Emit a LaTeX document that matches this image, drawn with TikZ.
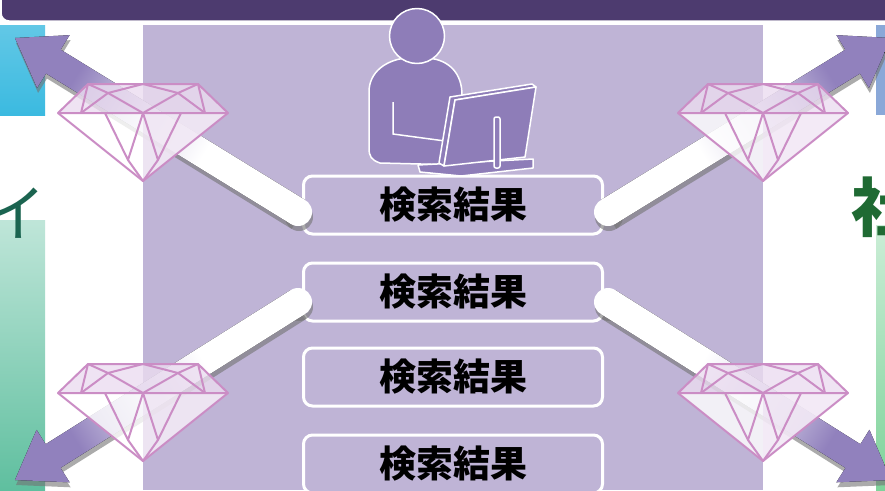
\documentclass[tikz,border=0pt]{standalone}
\usepackage{fontspec}
\newfontfamily\jpfont{Noto Sans CJK JP}
\usetikzlibrary{calc,positioning}

\definecolor{barpurple}{HTML}{4D3B6F}
\definecolor{panelpurple}{HTML}{BFB4D6}
\definecolor{iconpurple}{HTML}{8E7DB8}
\definecolor{arrowpurple}{HTML}{9181BD}
\definecolor{gemline}{HTML}{CB8DC5}
\definecolor{gemtint}{HTML}{EBDDF0}
\definecolor{skyblue}{HTML}{3BBAE0}
\definecolor{mintgreen}{HTML}{5FBF9F}
\definecolor{softblue}{HTML}{8AA8D8}
\definecolor{leafgreen}{HTML}{7ED39A}
\definecolor{darkteal}{HTML}{1B6450}
\definecolor{darkleaf}{HTML}{1F6A33}

% fade along the arrow shaft: white at the box, purple at the tip
\pgfdeclarehorizontalshading{shaftfade}{100bp}{color(0bp)=(white); color(40bp)=(white); color(55bp)=(arrowpurple!35!white); color(70bp)=(arrowpurple); color(100bp)=(arrowpurple)}

\tikzset{
  resbox/.style={draw=white, line width=3pt, rounded corners=9pt, fill=panelpurple,
    minimum width=299pt, minimum height=58pt, inner sep=0pt,
    font=\jpfont\bfseries\fontsize{37}{40}\selectfont},
  iconfill/.style={fill=iconpurple, draw=white, line width=1.5pt, line join=round},
  gemedge/.style={draw=gemline, line width=2pt, line join=round},
  shaftshadow/.style={fill=black!55, fill opacity=0.6}
}

% shaft and head of one outgoing arrow; #1 start, #2 tip
\newcommand\shaftpath[2]{%
  ($(#1)!14pt!90:(#2)$) -- ($($(#2)!45pt!(#1)$)!14pt!-90:(#1)$)
  -- ($($(#2)!45pt!(#1)$)!31pt!-90:(#1)$) -- (#2)
  -- ($($(#2)!45pt!(#1)$)!31pt!90:(#1)$) -- ($($(#2)!45pt!(#1)$)!14pt!90:(#1)$)
  -- ($(#1)!14pt!-90:(#2)$) -- cycle}
% #3 is the shading angle
\newcommand\hitarrow[3]{%
  \begin{scope}[transform canvas={shift={(1pt,-5pt)}}]
    \fill[shaftshadow] \shaftpath{#1}{#2};
    \fill[shaftshadow] (#1) circle[radius=14pt];
  \end{scope}
  \fill[shading=shaftfade, shading angle=#3] \shaftpath{#1}{#2};
  \fill[white] (#1) circle[radius=14pt];
}

\begin{document}
\begin{tikzpicture}[x=1pt,y=-1pt]
\useasboundingbox (0,0) rectangle (885,490);
\clip (0,0) rectangle (885,490);
\fill[white] (0,0) rectangle (885,490);

% side panels, cut off at the edges
\fill[top color=skyblue!80!white, bottom color=skyblue] (0,25) rectangle (45,115);
\fill[top color=mintgreen!40!white, bottom color=mintgreen] (0,220) rectangle (45,490);
\fill[softblue] (876,25) rectangle (885,115);
\fill[top color=leafgreen!40!white, bottom color=leafgreen] (876,225) rectangle (885,490);
\node[anchor=west, inner sep=0pt, text=darkteal, font=\jpfont\fontsize{62}{62}\selectfont] (lefttitle) at (-16,213) {イ};
\node[anchor=west, inner sep=0pt, text=darkleaf, font=\jpfont\bfseries\fontsize{64}{64}\selectfont] (righttitle) at (851,207) {社};

% centre panel and title bar
\fill[panelpurple] (143,25) rectangle (763,490);
\draw[fill=barpurple, draw=white, line width=1.5pt, rounded corners=8pt] (1,-10) -- (1,21) -- (895,21) -- (895,-10);

% search results
\node[resbox] (res1) at (453,205) {検索結果};
\node[resbox, below=26pt of res1] (res2) {検索結果};
\node[resbox, below=24pt of res2] (res3) {検索結果};
\node[resbox, below=26pt of res3] (res4) {検索結果};

% user at the computer
\filldraw[iconfill] (380,163) .. controls (371,160) and (369,156) .. (369,148) -- (369,92)
  .. controls (369,72) and (386,60) .. (406,58) -- (428,58)
  .. controls (450,60) and (462,74) .. (462,95) -- (462,165) -- cycle;
\draw[white, line width=1.5pt] (393,102) -- (393,134) -- (445,141);
\filldraw[iconfill] (417,36) circle[radius=27.5pt];
\filldraw[iconfill] (418,165) -- (533,159) -- (533,168) -- (461,176) -- (420,172) -- cycle;
\filldraw[iconfill] (450,97) -- (532,84) -- (536,87) -- (455,100) -- (444,166) -- (439,163) -- cycle;
\filldraw[iconfill] (455,100) -- (536,87) -- (525,157) -- (444,166) -- cycle;
\filldraw[iconfill, rounded corners=2pt] (494,117) rectangle (500,168);

% arrows leaving the results
\coordinate (fromNW) at ($(res1.west)+(-4,7)$);
\coordinate (fromNE) at ($(res1.east)+(4,7)$);
\coordinate (fromSW) at ($(res2.west)+(-4,10)$);
\coordinate (fromSE) at ($(res2.east)+(4,10)$);
\coordinate (tipNW) at (15,38);
\coordinate (tipNE) at (891,38);
\coordinate (tipSW) at (15,480);
\coordinate (tipSE) at (891,480);
\hitarrow{fromNW}{tipNW}{148}
\hitarrow{fromNE}{tipNE}{32}
\hitarrow{fromSW}{tipSW}{212}
\hitarrow{fromSE}{tipSE}{-32}

% gems on the arrows
\foreach \gx/\gy in {143/113, 763/113, 143/393, 763/393} {
  \begin{scope}[shift={(\gx,\gy)}]
    \fill[gemtint, fill opacity=0.8] (-85,0) -- (-55,-29) -- (55,-29) -- (85,0) -- cycle;
    \fill[white, fill opacity=0.8] (-85,0) -- (85,0) -- (0,68) -- cycle;
    \fill[gemtint, fill opacity=0.6] (0,0) -- (85,0) -- (0,68) -- cycle;
    \draw[gemedge] (-85,0) -- (-55,-29) -- (55,-29) -- (85,0) -- cycle;
    \draw[gemedge] (-85,0) -- (0,68) -- (85,0);
    \draw[gemedge] (-55,-29) -- (-62,0) (55,-29) -- (62,0);
    \draw[gemedge] (-55,-29) -- (-35,-20) -- (0,-29) -- (35,-20) -- (55,-29);
    \draw[gemedge] (-62,0) -- (-35,-20) -- (0,0) -- (35,-20) -- (62,0);
    \draw[gemedge] (-38,0) -- (-15,47) -- (0,0) -- (15,47) -- (38,0);
    \draw[gemedge] (-15,47) -- (0,68) -- (15,47);
  \end{scope}
}
\end{tikzpicture}
\end{document}
